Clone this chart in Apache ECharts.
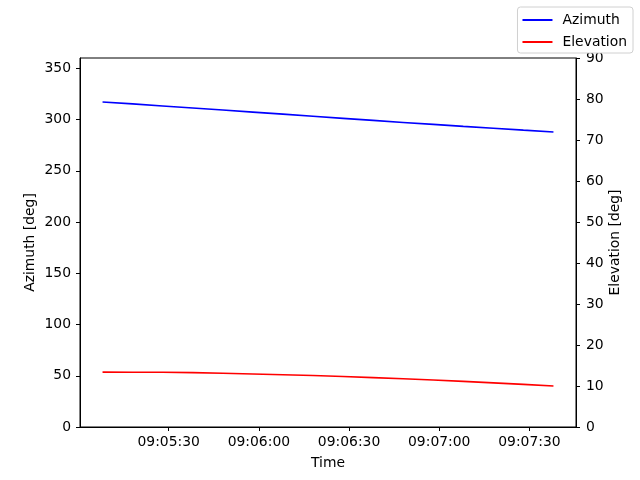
<!DOCTYPE html>
<html>
<head>
<meta charset="utf-8">
<script src="https://cdn.jsdelivr.net/npm/echarts@6/dist/echarts.min.js"></script>
<style>html,body{margin:0;padding:0;background:#fff}#c{width:640px;height:480px}</style>
</head>
<body>
<div id="c"></div>
<script>
// Time stamps (HH:MM:SS)
const times = ['09:05:08','09:05:18','09:05:28','09:05:38','09:05:48','09:05:58','09:06:08','09:06:18',
               '09:06:28','09:06:38','09:06:48','09:06:58','09:07:08','09:07:18','09:07:28','09:07:38'];
const azimuth = [317.1,315.2,313.2,311.2,309.2,307.2,305.2,303.1,301.1,299.1,297.1,295.2,293.3,291.5,289.6,287.8];
const elevation = [13.39,13.37,13.35,13.27,13.12,12.94,12.75,12.56,12.33,12.05,11.77,11.46,11.12,10.77,10.40,10.00];
const xTickLabels = ['09:05:30','09:06:00','09:06:30','09:07:00','09:07:30'];
const azTicks = [0,50,100,150,200,250,300,350];
const elTicks = [0,10,20,30,40,50,60,70,80,90];

function toSec(s){const p=s.split(':').map(Number);return p[0]*3600+p[1]*60+p[2];}
function fmt(v){v=Math.round(v);const h=Math.floor(v/3600),m=Math.floor(v%3600/60),s=v%60;
  return [h,m,s].map(n=>String(n).padStart(2,'0')).join(':');}

const tSec = times.map(toSec);
const t0 = tSec[0], t1 = tSec[tSec.length-1];
const pad = (t1-t0)*0.05;
const xTickVals = xTickLabels.map(toSec);

const font = 'DejaVu Sans';
const fs = 13.9;
const chart = echarts.init(document.getElementById('c'), null, {renderer:'canvas'});
chart.setOption({
  animation:false,
  backgroundColor:'#fff',
  textStyle:{fontFamily:font},
  grid:{left:80,right:64,top:58,bottom:53,show:true,borderColor:'#000',borderWidth:1,backgroundColor:'transparent'},
  legend:{
    orient:'vertical', right:7, top:7,
    itemWidth:30, itemHeight:2, itemGap:8,
    padding:[6,6,4,5],
    backgroundColor:'#fff', borderColor:'#d0d0d0', borderWidth:1, borderRadius:3,
    textStyle:{fontFamily:font,fontSize:fs,color:'#000',padding:[0,0,0,5]},
    data:[{name:'Azimuth',icon:'rect'},{name:'Elevation',icon:'rect'}]
  },
  xAxis:{
    type:'value', min:t0-pad, max:t1+pad,
    name:'Time', nameLocation:'middle', nameGap:29, nameMoveOverlap:false,
    nameTextStyle:{fontFamily:font,fontSize:fs,color:'#000'},
    splitLine:{show:false},
    axisLine:{show:true,lineStyle:{color:'#000',width:1}},
    axisTick:{show:true,length:4,lineStyle:{color:'#000'},customValues:xTickVals},
    axisLabel:{color:'#000',fontFamily:font,fontSize:fs,margin:8,customValues:xTickVals,formatter:v=>fmt(v)}
  },
  yAxis:[{
    type:'value', min:0, max:360, position:'left',
    name:'Azimuth [deg]', nameLocation:'middle', nameGap:43, nameRotate:90, nameMoveOverlap:false,
    nameTextStyle:{fontFamily:font,fontSize:fs,color:'#000'},
    splitLine:{show:false},
    axisLine:{show:true,lineStyle:{color:'#000',width:1}},
    axisTick:{show:true,length:4,lineStyle:{color:'#000'},customValues:azTicks},
    axisLabel:{color:'#000',fontFamily:font,fontSize:fs,margin:9,customValues:azTicks}
  },{
    type:'value', min:0, max:90, position:'right',
    name:'Elevation [deg]', nameLocation:'middle', nameGap:32, nameRotate:90, nameMoveOverlap:false,
    nameTextStyle:{fontFamily:font,fontSize:fs,color:'#000'},
    splitLine:{show:false},
    axisLine:{show:true,lineStyle:{color:'#000',width:1}},
    axisTick:{show:true,length:4,lineStyle:{color:'#000'},customValues:elTicks},
    axisLabel:{color:'#000',fontFamily:font,fontSize:fs,margin:10,customValues:elTicks}
  }],
  series:[{
    name:'Azimuth', type:'line', yAxisIndex:0, symbol:'none', smooth:false,
    lineStyle:{color:'#0000ff',width:1.6}, itemStyle:{color:'#0000ff'},
    data:tSec.map((t,i)=>[t,azimuth[i]])
  },{
    name:'Elevation', type:'line', yAxisIndex:1, symbol:'none', smooth:false,
    lineStyle:{color:'#ff0000',width:1.6}, itemStyle:{color:'#ff0000'},
    data:tSec.map((t,i)=>[t,elevation[i]])
  }]
});
</script>
</body>
</html>
